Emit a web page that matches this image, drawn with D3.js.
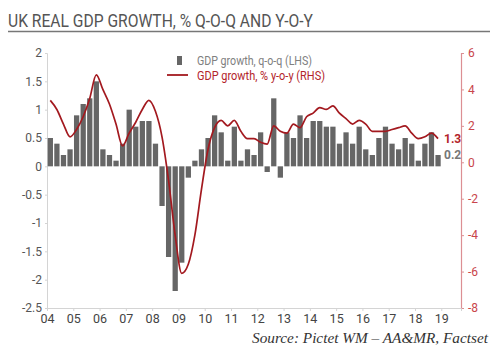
<!DOCTYPE html>
<html>
<head>
<meta charset="utf-8">
<script src="https://cdn.jsdelivr.net/npm/d3@7"></script>
<style>
  html, body { margin: 0; padding: 0; background: #fff; }
  svg { display: block; }
</style>
</head>
<body>
<svg id="chart" width="500" height="359"></svg>
<script>
// ---- data ----
const years = [2004, 2005, 2006, 2007, 2008, 2009, 2010, 2011, 2012, 2013, 2014, 2015, 2016, 2017, 2018];
const quarters = ["Q1", "Q2", "Q3", "Q4"];
// GDP growth, q-o-q (LHS), 2004Q1 .. 2018Q4
const qoq = [
  0.5, 0.4, 0.2, 0.3,
  0.9, 1.1, 1.2, 1.5,
  0.3, 0.2, 0.1, 0.4,
  1.0, 0.7, 0.8, 0.8,
  0.4, -0.7, -1.6, -2.2,
  -1.7, -0.2, 0.1, 0.3,
  0.5, 0.9, 0.6, 0.1,
  0.7, 0.1, 0.3, 0.2,
  0.6, -0.1, 1.2, -0.2,
  0.6, 0.5, 0.9, 0.5,
  0.8, 0.8, 0.7, 0.7,
  0.4, 0.6, 0.4, 0.7,
  0.3, 0.2, 0.5, 0.7,
  0.4, 0.3, 0.5, 0.4,
  0.1, 0.4, 0.6, 0.2
];
// GDP growth, % y-o-y (RHS)
const yoy = [
  3.4, 2.9, 2.1, 1.4,
  1.8, 2.5, 3.5, 4.8,
  4.0, 3.2, 2.1, 0.9,
  1.6, 2.2, 2.9, 3.4,
  2.8, 1.4, -1.0, -4.0,
  -6.1, -5.6, -4.0, -1.5,
  0.7, 1.9, 2.3, 2.0,
  2.3, 1.7, 1.3, 1.3,
  1.1, 1.0, 2.0, 1.7,
  1.6, 2.1, 1.9, 2.5,
  2.7, 3.0, 2.9, 3.1,
  2.7, 2.4, 2.1, 2.3,
  2.1, 1.7, 1.7, 1.7,
  1.8, 1.9, 2.0, 1.6,
  1.3, 1.4, 1.6, 1.3
];
const xTickYears = [2004, 2005, 2006, 2007, 2008, 2009, 2010, 2011, 2012, 2013, 2014, 2015, 2016, 2017, 2018, 2019];
const xTickLabels = ["04", "05", "06", "07", "08", "09", "10", "11", "12", "13", "14", "15", "16", "17", "18", "19"];
const leftTicks = [2, 1.5, 1, 0.5, 0, -0.5, -1, -1.5, -2, -2.5];
const rightTicks = [6, 4, 2, 0, -2, -4, -6, -8];
const title = "UK REAL GDP GROWTH, % Q-O-Q AND Y-O-Y";
const legendLabels = ["GDP growth, q-o-q (LHS)", "GDP growth, % y-o-y (RHS)"];
const sourceText = "Source: Pictet WM \u2013 AA&MR, Factset";

// ---- build table ----
const rows = [];
years.forEach((yr, i) => quarters.forEach((q, j) => {
  const k = i * 4 + j;
  rows.push({ t: yr + j / 4, label: yr + q, qoq: qoq[k], yoy: yoy[k] });
}));

// ---- styles ----
const SANS = "Roboto, 'Liberation Sans', sans-serif";
const barColor = "#666666";
const lineColor = "#a3191f";
const svg = d3.select("#chart").attr("font-family", SANS);

const x = d3.scaleLinear().domain([2004, 2019.75]).range([47, 461]);
const yL = d3.scaleLinear().domain([-2.5, 2]).range([308, 53]);
const yR = d3.scaleLinear().domain([-8, 6]).range([308, 53]);
const qw = x(2004.25) - x(2004);

// title
svg.append("text").attr("x", 8).attr("y", 27)
  .attr("font-family", SANS)
  .attr("font-size", 19).attr("fill", "#555")
  .attr("textLength", 305).attr("lengthAdjust", "spacingAndGlyphs")
  .text(title);
svg.append("line").attr("x1", 8).attr("x2", 490).attr("y1", 31.5).attr("y2", 31.5)
  .attr("stroke", "#777").attr("stroke-width", 1.3);

// axes
const fmt = v => String(v);
const gL = svg.append("g").attr("transform", `translate(${x(2004)},0)`)
  .call(d3.axisLeft(yL).tickValues(leftTicks).tickFormat(fmt).tickSize(2).tickPadding(3));
gL.attr("font-family", SANS);
gL.select(".domain").attr("stroke", "#d4d4d4");
gL.selectAll(".tick line").attr("stroke", "#d4d4d4");
gL.selectAll(".tick text").attr("fill", "#555").attr("font-size", 12);

const gR = svg.append("g").attr("transform", `translate(${x.range()[1]},0)`)
  .call(d3.axisRight(yR).tickValues(rightTicks).tickFormat(fmt).tickSize(3).tickPadding(4));
gR.attr("font-family", SANS);
gR.select(".domain").attr("stroke", "#dc8f93").attr("stroke-width", 1.2);
gR.selectAll(".tick line").attr("stroke", "#dc8f93");
gR.selectAll(".tick text").attr("fill", "#c9454b").attr("font-size", 12);

const gX = svg.append("g").attr("transform", `translate(0,${yL(-2.5)})`)
  .call(d3.axisBottom(x).tickValues(xTickYears)
    .tickFormat((d, i) => xTickLabels[i]).tickSize(3).tickPadding(3));
gX.attr("font-family", SANS);
gX.select(".domain").attr("stroke", "#d4d4d4");
gX.selectAll(".tick line").attr("stroke", "#d4d4d4");
gX.selectAll(".tick text").attr("fill", "#444").attr("font-size", 12.5);

// bars
svg.append("g").selectAll("rect").data(rows).join("rect")
  .attr("x", d => x(d.t) + 0.7)
  .attr("width", qw - 1.3)
  .attr("y", d => Math.min(yL(d.qoq), yL(0)))
  .attr("height", d => Math.abs(yL(d.qoq) - yL(0)))
  .attr("fill", barColor);

// line
const line = d3.line()
  .x(d => x(d.t) + qw / 2)
  .y(d => yR(d.yoy))
  .curve(d3.curveMonotoneX);
svg.append("path").datum(rows).attr("d", line)
  .attr("fill", "none").attr("stroke", lineColor).attr("stroke-width", 1.7)
  .attr("stroke-linejoin", "round");

// end labels
const last = rows[rows.length - 1];
svg.append("text").attr("x", 444).attr("y", yR(last.yoy) + 4)
  .attr("font-size", 12).attr("font-weight", "bold").attr("fill", "#b3242a")
  .text(d3.format(".1f")(last.yoy));
svg.append("text").attr("x", 444).attr("y", yL(last.qoq) + 4)
  .attr("font-size", 12).attr("font-weight", "bold").attr("fill", "#777")
  .text(d3.format(".1f")(last.qoq));

// legend
svg.append("rect").attr("x", 177).attr("y", 56).attr("width", 5).attr("height", 9).attr("fill", barColor);
svg.append("line").attr("x1", 167).attr("x2", 188).attr("y1", 75).attr("y2", 75)
  .attr("stroke", lineColor).attr("stroke-width", 1.8);
svg.append("text").attr("x", 197).attr("y", 65).attr("font-size", 12).attr("fill", "#808080")
  .attr("textLength", 115).attr("lengthAdjust", "spacingAndGlyphs")
  .text(legendLabels[0]);
svg.append("text").attr("x", 197).attr("y", 80).attr("font-size", 12).attr("fill", "#b3242a")
  .attr("textLength", 128).attr("lengthAdjust", "spacingAndGlyphs")
  .text(legendLabels[1]);

// source
svg.append("text").attr("x", 252).attr("y", 343)
  .attr("font-family", "'Liberation Serif', 'DejaVu Serif', serif")
  .attr("font-style", "italic").attr("font-size", 15).attr("fill", "#333")
  .attr("textLength", 236).attr("lengthAdjust", "spacingAndGlyphs")
  .text(sourceText);
</script>
</body>
</html>
